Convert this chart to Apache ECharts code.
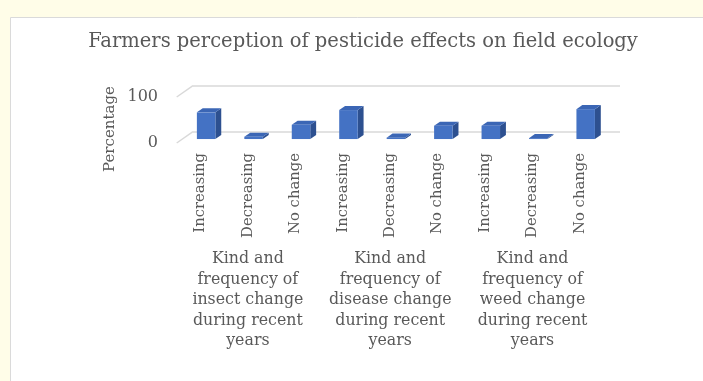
<!DOCTYPE html>
<html>
<head>
<meta charset="utf-8">
<script src="https://cdn.jsdelivr.net/npm/echarts@6/dist/echarts.min.js"></script>
<style>
  html, body { margin: 0; padding: 0; background: #fffde8; }
  #chart { width: 703px; height: 381px; }
</style>
</head>
<body>
<div id="chart"></div>
<script>
// Answer levels shown under each bar
const levels = ['Increasing', 'Decreasing', 'No change'];
// Question groups (multi-line captions)
const groups = [
  'Kind and\nfrequency of\ninsect change\nduring recent\nyears',
  'Kind and\nfrequency of\ndisease change\nduring recent\nyears',
  'Kind and\nfrequency of\nweed change\nduring recent\nyears'
];
// Percentages of farmers per answer
const insectValues = [58, 5, 31];
const diseaseValues = [63, 3, 29];
const weedValues = [29, 2, 65];
// Value axis ticks
const yTicks = [0, 100];

const categories = groups.flatMap(() => levels);
const allValues = [].concat(insectValues, diseaseValues, weedValues);
const barData = allValues.map((v, i) => [i, v]);

// 3D look: depth vector from the front plane to the back wall
const DEPTH = { x: 16.3, y: -11.3 };
const BAR_FRONT = 0.65;  // fraction of depth in front of the back wall
const BAR_BACK = 0.29;
const BAR_RATIO = 0.39;

const FONT = 'DejaVu Serif';
const TEXT = '#595959';

function renderBar(params, api) {
  const i = api.value(0), v = api.value(1);
  const base = api.coord([i, 0]);
  const top = api.coord([i, v]);
  const w = api.size([1, 0])[0] * BAR_RATIO;
  const fx = -DEPTH.x * BAR_FRONT, fy = -DEPTH.y * BAR_FRONT;
  const dx = DEPTH.x * (BAR_FRONT - BAR_BACK), dy = DEPTH.y * (BAR_FRONT - BAR_BACK);
  const x0 = base[0] - w / 2 + fx;
  const yt = top[1] + fy;
  const yb = base[1] + fy;
  return {
    type: 'group',
    children: [
      { type: 'polygon', shape: { points: [[x0 + w, yt], [x0 + w, yb], [x0 + w + dx, yb + dy], [x0 + w + dx, yt + dy]] },
        style: { fill: '#2d5090' } },
      { type: 'polygon', shape: { points: [[x0, yt], [x0 + w, yt], [x0 + w + dx, yt + dy], [x0 + dx, yt + dy]] },
        style: { fill: '#3b66b5' } },
      { type: 'rect', shape: { x: x0, y: yt, width: w, height: yb - yt },
        style: { fill: '#4472c4' } }
    ]
  };
}

// Slanted side-wall lines joining the back gridlines to the front plane
function renderWall(params, api) {
  const y = api.coord([0, api.value(0)])[1];
  const x = params.coordSys.x;
  return {
    type: 'line',
    shape: { x1: x - DEPTH.x, y1: y - DEPTH.y, x2: x, y2: y },
    style: { stroke: '#d9d9d9', lineWidth: 1.5 }
  };
}

const chart = echarts.init(document.getElementById('chart'), null, { renderer: 'canvas' });
chart.setOption({
  backgroundColor: '#fffde8',
  animation: false,
  title: {
    text: 'Farmers perception of pesticide effects on field ecology',
    left: 358, top: 27, textAlign: 'center',
    textStyle: { fontFamily: FONT, fontSize: 19.5, fontWeight: 'normal', color: TEXT }
  },
  graphic: [
    { type: 'rect', z: -10, shape: { x: 10.5, y: 17.5, width: 760, height: 420 },
      style: { fill: '#ffffff', stroke: '#dadada', lineWidth: 1 } },
    { type: 'text', x: 110, y: 129, rotation: Math.PI / 2,
      style: { text: 'Percentage', fontFamily: FONT, fontSize: 15, fill: TEXT, align: 'center', verticalAlign: 'middle' } }
  ],
  grid: [
    // back wall
    { left: 193, right: 83, top: 85.7, bottom: 249.3 },
    // front plane
    { left: 176.7, right: 99.3, top: 97, bottom: 238 }
  ],
  xAxis: [
    { gridIndex: 0, type: 'category', data: categories, show: false },
    { gridIndex: 1, type: 'category', data: categories, position: 'bottom',
      axisLine: { show: false }, axisTick: { show: false },
      axisLabel: { rotate: 90, margin: 10, interval: 0, fontFamily: FONT, fontSize: 14.8, color: TEXT } },
    { gridIndex: 1, type: 'category', data: groups, position: 'bottom', offset: 98,
      axisLine: { show: false }, axisTick: { show: false },
      axisLabel: { margin: 8, interval: 0, fontFamily: FONT, fontSize: 15.8, lineHeight: 20.5, color: TEXT, align: 'center' } }
  ],
  yAxis: [
    { gridIndex: 0, type: 'value', min: yTicks[0], max: yTicks[yTicks.length - 1], interval: 100,
      axisLine: { show: false }, axisTick: { show: false }, axisLabel: { show: false },
      splitLine: { lineStyle: { color: '#d9d9d9', width: 1.5 } } },
    { gridIndex: 1, type: 'value', min: yTicks[0], max: yTicks[yTicks.length - 1], interval: 100,
      axisLine: { show: false }, axisTick: { show: false }, splitLine: { show: false },
      axisLabel: { margin: 18.7, fontFamily: FONT, fontSize: 16, color: TEXT } }
  ],
  series: [
    { type: 'custom', xAxisIndex: 0, yAxisIndex: 0, renderItem: renderWall,
      data: yTicks.map(v => [v]), encode: { y: 0 }, silent: true, z: 1 },
    { type: 'custom', xAxisIndex: 0, yAxisIndex: 0, renderItem: renderBar,
      data: barData, encode: { x: 0, y: 1 }, z: 3 }
  ]
});
</script>
</body>
</html>
